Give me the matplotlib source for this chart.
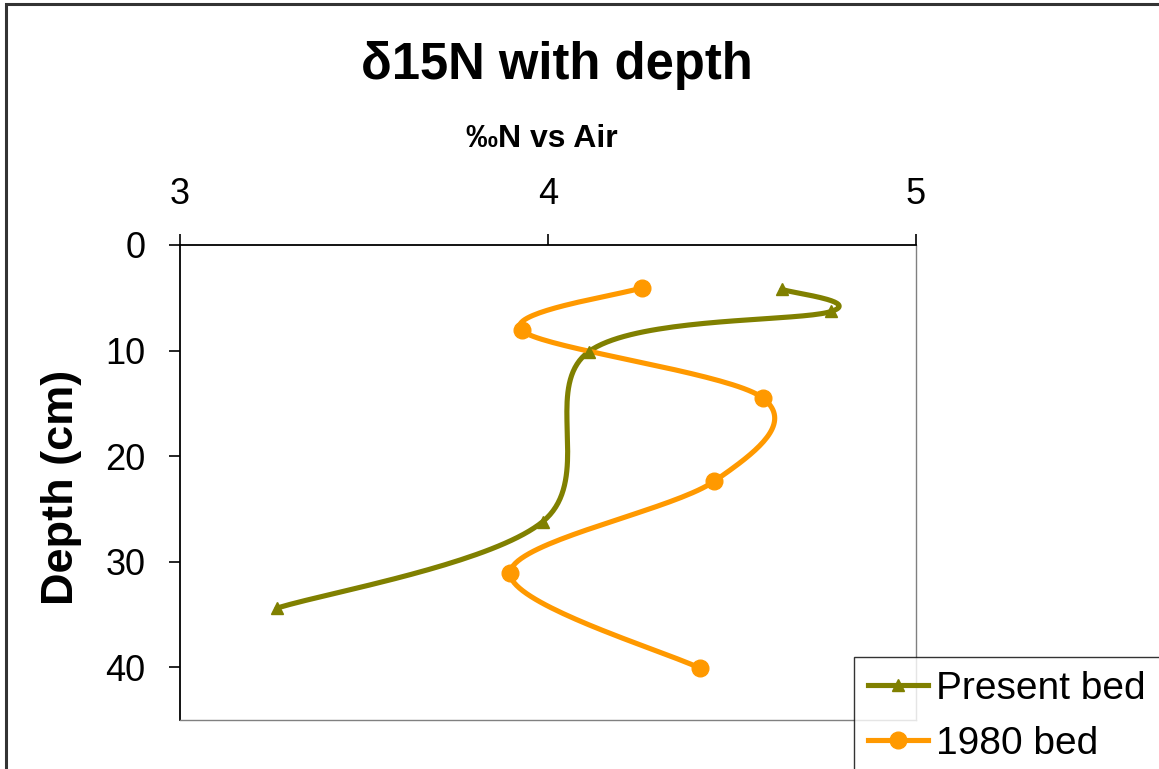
import matplotlib
matplotlib.use("Agg")
import matplotlib.pyplot as plt
import numpy as np
from matplotlib.patches import Rectangle

plt.rcParams["font.family"] = ["Liberation Sans", "DejaVu Sans"]

# values
present_n = [4.636, 4.769, 4.111, 3.986, 3.264]
present_depth = [4.2, 6.3, 10.1, 26.2, 34.4]
bed1980_n = [4.255, 3.929, 4.584, 4.451, 3.897, 4.413]
bed1980_depth = [4.05, 8.1, 14.5, 22.4, 31.05, 40.1]

x_ticks = [3, 4, 5]
y_ticks = [0, 10, 20, 30, 40]

OLIVE = "#808000"
ORANGE = "#FF9900"


def smooth(ax, xs, ys, n=40):
    # Excel-style smoothed line: cubic bezier with Catmull-Rom control points,
    # computed in screen space
    pts = ax.transData.transform(np.column_stack([xs, ys]))
    pts = np.vstack([pts[0], pts, pts[-1]])
    out = []
    t = np.linspace(0, 1, n)[:, None]
    for i in range(1, len(pts) - 2):
        p0, p1, p2, p3 = pts[i - 1], pts[i], pts[i + 1], pts[i + 2]
        c1 = p1 + (p2 - p0) / 6
        c2 = p2 - (p3 - p1) / 6
        seg = ((1 - t) ** 3) * p1 + 3 * ((1 - t) ** 2) * t * c1 + 3 * (1 - t) * t ** 2 * c2 + t ** 3 * p2
        out.append(seg)
    out = np.vstack(out)
    back = ax.transData.inverted().transform(out)
    return back[:, 0], back[:, 1]


W, H = 1159, 769
fig = plt.figure(figsize=(W / 100, H / 100), dpi=100)

# outer chart border (right and bottom edges fall outside the picture)
fig.patches.append(Rectangle((6 / W, -0.05), 1.2, 1 - 4 / H + 0.05,
                             transform=fig.transFigure, fill=False,
                             edgecolor="#333333", linewidth=2.2, zorder=0))

ax = fig.add_axes([180 / W, 1 - 720 / H, (916 - 180) / W, (720 - 245) / H])
ax.set_xlim(3, 5)
ax.set_ylim(45, 0)

ax.xaxis.tick_top()
ax.xaxis.set_label_position("top")
ax.set_xticks(x_ticks)
ax.set_yticks(y_ticks)
ax.tick_params(axis="both", direction="out", length=8, width=1.2,
               labelsize=26)
ax.tick_params(axis="x", pad=16)
ax.tick_params(axis="y", pad=17)

for side in ["left", "top"]:
    ax.spines[side].set_color("black")
    ax.spines[side].set_linewidth(1.3)
for side in ["right", "bottom"]:
    ax.spines[side].set_color("#808080")
    ax.spines[side].set_linewidth(1.0)

sx, sy = smooth(ax, present_n, present_depth)
ax.plot(sx, sy, color=OLIVE, linewidth=3.7, solid_capstyle="round", zorder=3)
ax.plot(present_n, present_depth, linestyle="none", marker="^",
        markersize=9, color=OLIVE, zorder=4)

ox, oy = smooth(ax, bed1980_n, bed1980_depth)
ax.plot(ox, oy, color=ORANGE, linewidth=3.7, solid_capstyle="round", zorder=3)
ax.plot(bed1980_n, bed1980_depth, linestyle="none", marker="o",
        markersize=12, color=ORANGE, zorder=4)

fig.text(557 / W, 1 - 66 / H, "δ15N with depth", ha="center", va="center",
         fontsize=36.5, fontweight="bold")
fig.text(542 / W, 1 - 139 / H, "‰N vs Air", ha="center", va="center",
         fontsize=23, fontweight="bold")
fig.text(62 / W, 1 - 487 / H, "Depth (cm)", ha="center", va="center",
         rotation=90, fontsize=32.5, fontweight="bold")

h1, = ax.plot([], [], color=OLIVE, linewidth=3.7, marker="^", markersize=9)
h2, = ax.plot([], [], color=ORANGE, linewidth=3.7, marker="o", markersize=12)
leg = fig.legend([h1, h2], ["Present bed", "1980 bed"],
                 loc="upper left", bbox_to_anchor=(854 / W, 1 - 657 / H),
                 fontsize=28, frameon=True, fancybox=False, handlelength=1.55,
                 handletextpad=0.22, labelspacing=0.5, borderpad=0.35,
                 borderaxespad=0, markerscale=1.0)
leg.get_frame().set_edgecolor("black")
leg.get_frame().set_linewidth(1.0)

fig.savefig("out.png", dpi=100)
